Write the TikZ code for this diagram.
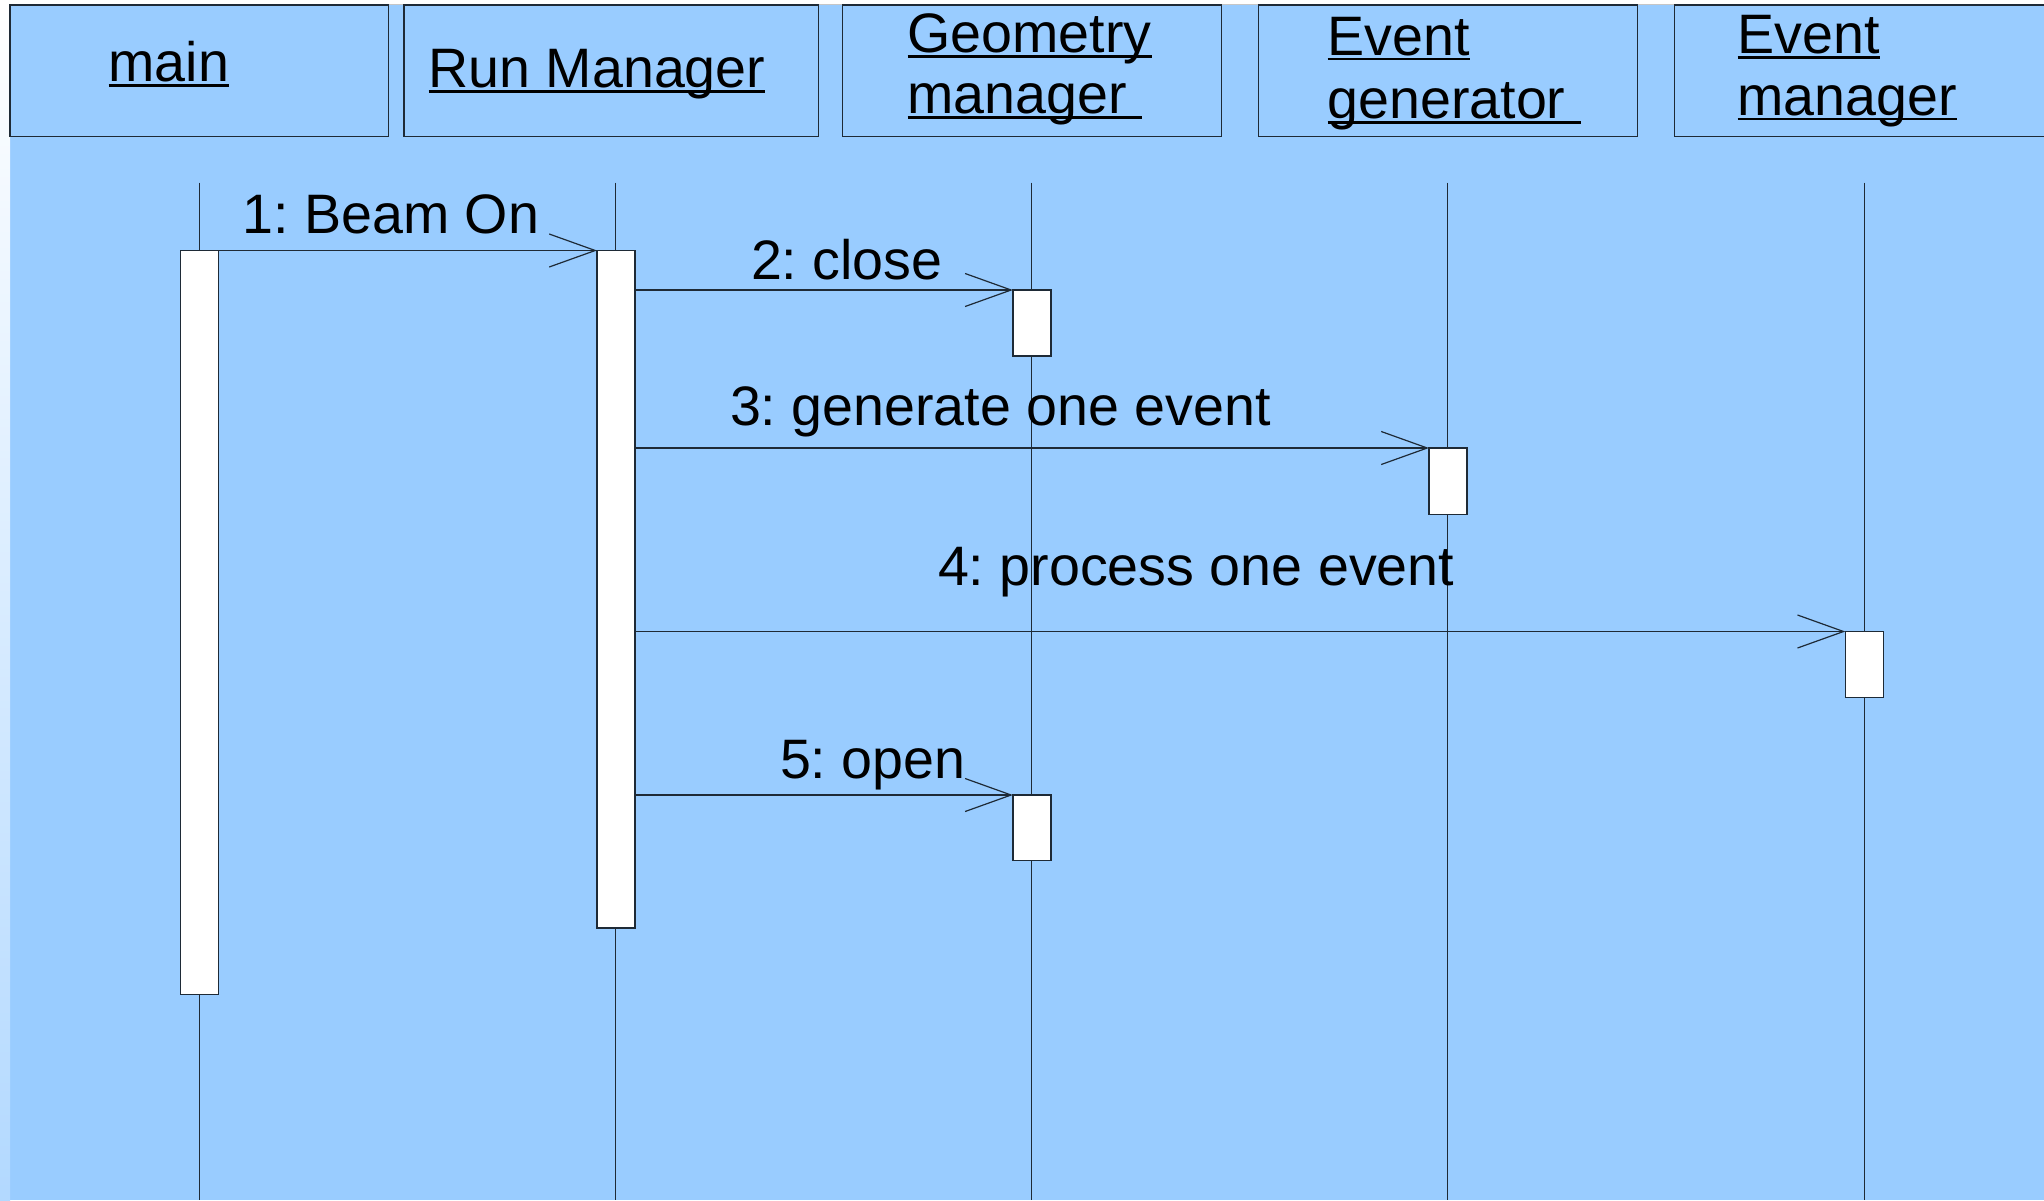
\documentclass[tikz,border=0pt]{standalone}
\usepackage{fontspec}
\setmainfont{Liberation Sans}
\usetikzlibrary{arrows.meta}
\definecolor{bgblue}{HTML}{99CCFF}
\definecolor{edgec}{HTML}{1E2A36}
\newcommand\ulx[1]{\setbox0\hbox{#1}\rlap{\rule[-2.7pt]{\wd0}{1.4pt}}\box0}
\frenchspacing
\begin{document}
\begin{tikzpicture}[x=0.5pt,y=-0.5pt,
  hdr/.style={draw=edgec, line width=0.6pt, fill=bgblue, rectangle, inner sep=0pt, outer sep=0pt, minimum height=65.65pt, anchor=north west},
  act/.style={draw=edgec, line width=0.6pt, fill=white, rectangle, inner sep=0pt, outer sep=0pt, minimum width=19pt, anchor=north},
  txt/.style={anchor=base west, inner sep=0pt, outer sep=0pt, font=\fontsize{27.8}{32}\selectfont\frenchspacing},
  life/.style={draw=edgec, line width=0.6pt},
  msg/.style={draw=edgec, line width=0.6pt, -{Straight Barb[length=23pt,width=16.5pt]}}
]
\useasboundingbox (0,0) rectangle (2044,1200);
\clip (0,0) rectangle (2044,1200);
\fill[white] (0,0) rectangle (2044,1200);
\fill[bgblue] (10,5) rectangle (2044,1200);
\shade[top color=white, bottom color=bgblue!75!white] (0,5) rectangle (10,1200);
\draw[gray!45, line width=0.6pt] (10,4.5) -- (2044,4.5);

% header boxes
\node[hdr, minimum width=189.35pt] (h1) at (10,5) {};
\node[hdr, minimum width=207.35pt] (h2) at (404,5) {};
\node[hdr, minimum width=189.5pt] (h3) at (842.3,5) {};
\node[hdr, minimum width=189.3pt] (h4) at (1258.7,5) {};
\node[hdr, minimum width=189.5pt] (h5) at (1674.7,5) {};

% header texts
\node[txt] (n1) at (108.5,81.7) {\ulx{main}};
\node[txt] (n2) at (428.5,87.3) {\ulx{Run Manager}};
\node[txt] (n3a) at (907.5,52.7) {\ulx{Geometry}};
\node[txt] (n3b) at (907.5,113.3) {\ulx{manager\ }};
\node[txt] (n4a) at (1327.5,55) {\ulx{Event}};
\node[txt] (n4b) at (1327.5,118.3) {\ulx{generator\ }};
\node[txt] (n5a) at (1737.5,53.3) {\ulx{Event}};
\node[txt] (n5b) at (1737.5,115) {\ulx{manager}};

% lifelines
\coordinate (t1) at (199.3,182.5); \coordinate (b1) at (199.3,1200);
\coordinate (t2) at (615.8,182.5); \coordinate (b2) at (615.8,1200);
\coordinate (t3) at (1031.7,182.5); \coordinate (b3) at (1031.7,1200);
\coordinate (t4) at (1447.8,182.5); \coordinate (b4) at (1447.8,1200);
\coordinate (t5) at (1864.3,182.5); \coordinate (b5) at (1864.3,1200);
\draw[life] (t1) -- (b1);
\draw[life] (t2) -- (b2);
\draw[life] (t3) -- (b3);
\draw[life] (t4) -- (b4);
\draw[life] (t5) -- (b5);

% activations
\node[act, minimum height=372pt] (a1) at (199.2,250.5) {};
\node[act, minimum height=338.75pt] (a2) at (616,250.5) {};
\node[act, minimum height=33pt] (g1) at (1031.9,290) {};
\node[act, minimum height=33.25pt] (e1) at (1448,448) {};
\node[act, minimum height=33pt] (m1) at (1864.3,631.5) {};
\node[act, minimum height=32.75pt] (g2) at (1031.9,795) {};

% messages
\draw[msg] (a1.north east) -- (a2.north west);
\draw[msg] (a2.east |- g1.north) -- (g1.north west);
\draw[msg] (a2.east |- e1.north) -- (e1.north west);
\draw[msg] (a2.east |- m1.north) -- (m1.north west);
\draw[msg] (a2.east |- g2.north) -- (g2.north west);

% labels
\node[txt] (l1) at (242.5,233) {1: Beam On};
\node[txt] (l2) at (751,279) {2: close};
\node[txt] (l3) at (730,425) {3: generate one event};
\node[txt] (l4) at (938,585) {4: process one event};
\node[txt] (l5) at (780,778) {5: open};
\end{tikzpicture}
\end{document}
